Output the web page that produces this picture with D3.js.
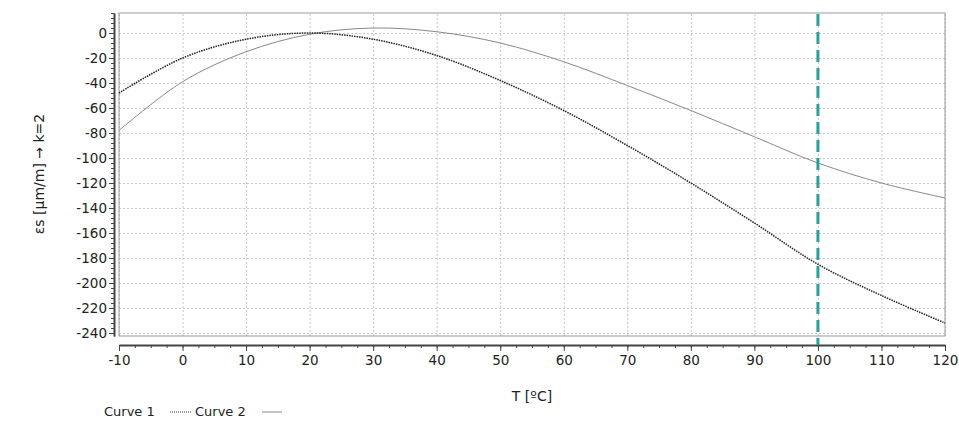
<!DOCTYPE html>
<html><head><meta charset="utf-8">
<script src="https://cdn.jsdelivr.net/npm/d3@7"></script>
<style>
body{margin:0;background:#fff;font-family:"DejaVu Sans",sans-serif;}
.grid line{stroke:#c8c8c8;stroke-dasharray:2,2;}
.grid .domain{display:none;}
.axis text{font-size:13.5px;fill:#222;font-family:"DejaVu Sans",sans-serif;}
.axis line,.axis path{stroke:#444;}
</style></head><body>
<svg id="c" width="959" height="434"></svg>
<script>
const temps = [-10, 0, 10, 20, 30, 40, 50, 60, 70, 80, 90, 100, 110, 120];
const curve1 = [-48, -20, -5, 0, -5, -18, -38, -62, -90, -120, -152, -185, -210, -232];
const curve2 = [-78, -39, -15, -1, 4, 1, -8, -23, -42, -62, -83, -104, -120, -132];
const yTicks = [0, -20, -40, -60, -80, -100, -120, -140, -160, -180, -200, -220, -240];
const markerT = 100;

const svg = d3.select('#c');
const x = d3.scaleLinear().domain([-10, 120]).range([119, 945]);
const y = d3.scaleLinear().domain([-242.4, 16]).range([336, 13]);
const fmt = d => String(d);

// grid
svg.append('g').attr('class', 'grid')
    .attr('transform', 'translate(0,336)')
    .call(d3.axisBottom(x).tickValues(temps).tickSize(-323).tickFormat(''));
svg.append('g').attr('class', 'grid')
    .attr('transform', 'translate(119,0)')
    .call(d3.axisLeft(y).tickValues(yTicks).tickSize(-826).tickFormat(''));

svg.append('rect').attr('x', 119).attr('y', 13).attr('width', 826).attr('height', 323)
    .attr('fill', 'none').attr('stroke', '#999');

// y axis with minor ticks
svg.append('g').attr('class', 'axis').attr('transform', 'translate(114,0)')
    .call(d3.axisLeft(y).tickValues(d3.range(-240, 17, 4)).tickSize(3).tickFormat('').tickSizeOuter(0));
svg.append('g').attr('class', 'axis').attr('transform', 'translate(114,0)')
    .call(d3.axisLeft(y).tickValues(yTicks).tickSize(5).tickPadding(2).tickSizeOuter(0).tickFormat(fmt))
    .select('.domain').attr('stroke-width', 2);

// x axis with minor ticks
svg.append('g').attr('class', 'axis').attr('transform', 'translate(0,345)')
    .call(d3.axisBottom(x).tickValues(d3.range(-10, 121, 2.5)).tickSize(3).tickFormat('').tickSizeOuter(0));
svg.append('g').attr('class', 'axis').attr('transform', 'translate(0,345)')
    .call(d3.axisBottom(x).tickValues(temps).tickSize(6).tickPadding(4).tickSizeOuter(0).tickFormat(fmt))
    .select('.domain').attr('stroke-width', 2);

const line = d3.line().x((d, i) => x(temps[i])).y(d => y(d)).curve(d3.curveCatmullRom.alpha(0.5));
svg.append('path').attr('d', line(curve2)).attr('fill', 'none').attr('stroke', '#888').attr('stroke-width', 1);
svg.append('path').attr('d', line(curve1)).attr('fill', 'none').attr('stroke', '#222')
    .attr('stroke-width', 1.5).attr('stroke-dasharray', '1.5,1');

svg.append('line').attr('x1', x(markerT)).attr('x2', x(markerT)).attr('y1', 14).attr('y2', 345)
    .attr('stroke', '#2aa198').attr('stroke-width', 3).attr('stroke-dasharray', '12,6');

svg.append('text').attr('transform', 'translate(44,174) rotate(-90)').attr('text-anchor', 'middle')
    .attr('font-size', 14).attr('fill', '#222').text('εs [µm/m] → k=2');
svg.append('text').attr('x', 532).attr('y', 401).attr('text-anchor', 'middle')
    .attr('font-size', 14).attr('fill', '#222').text('T [ºC]');

const lg = svg.append('g').attr('font-size', 13).attr('fill', '#222');
lg.append('text').attr('x', 104).attr('y', 416).text('Curve 1');
lg.append('line').attr('x1', 170).attr('x2', 192).attr('y1', 412).attr('y2', 412)
    .attr('stroke', '#333').attr('stroke-dasharray', '1,1');
lg.append('text').attr('x', 195).attr('y', 416).text('Curve 2');
lg.append('line').attr('x1', 262).attr('x2', 282).attr('y1', 412).attr('y2', 412).attr('stroke', '#888');
</script>
</body></html>
